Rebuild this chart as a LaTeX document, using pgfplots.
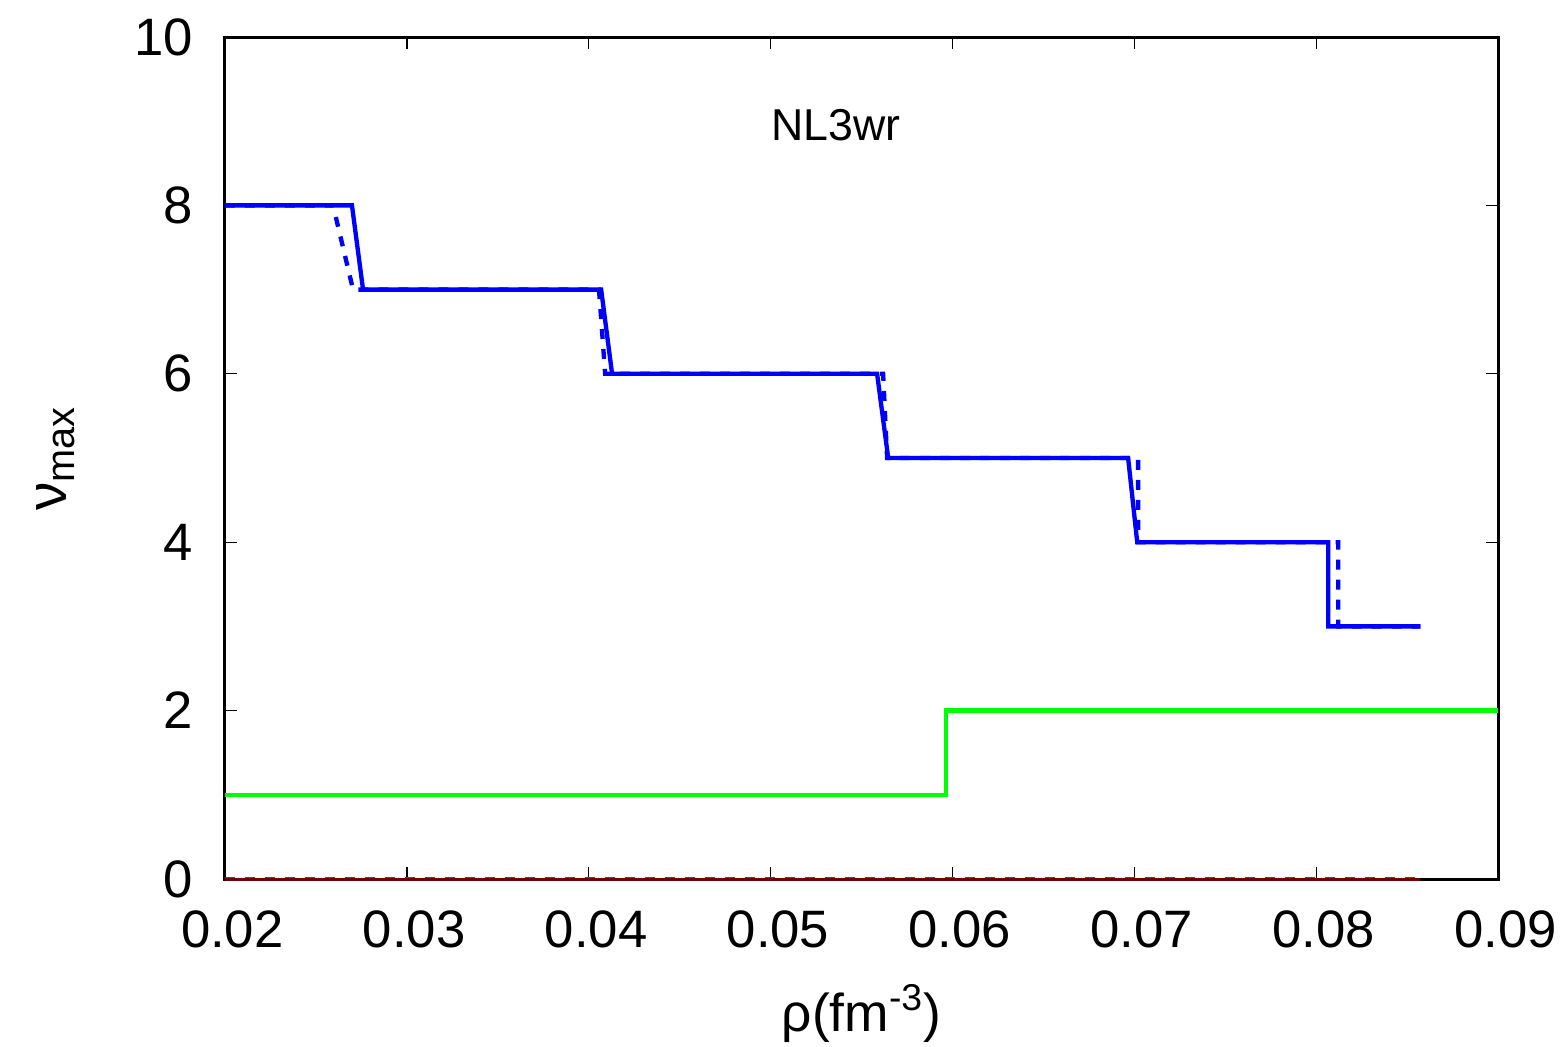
\documentclass[border=0pt]{standalone}
\usepackage{fontspec}
\setmainfont{Liberation Sans}
\usepackage{pgfplots}
\pgfplotsset{compat=1.18}

\begin{document}
\begin{tikzpicture}
\begin{axis}[
    at={(0,0)}, anchor=south west,
    scale only axis,
    width=382pt, height=252.6pt,
    xmin=0.02, xmax=0.09,
    ymin=0, ymax=10,
    xtick={0.02,0.03,...,0.09},
    ytick={0,2,...,10},
    /pgf/number format/assume math mode=true,
    /pgf/number format/fixed,
    /pgf/number format/fixed zerofill,
    /pgf/number format/precision=2,
    yticklabel style={/pgf/number format/precision=0},
    tick label style={font=\fontsize{15.8}{18}\selectfont},
    xticklabel style={yshift=-6pt, xshift=2.2pt},
    yticklabel style={xshift=-6pt},
    scaled x ticks=false,
    tick align=inside,
    major tick length=3.6pt,
    tick style={black, line width=0.4pt},
    axis line style={black, line width=0.9pt},
    xlabel={\fontsize{16}{19}\selectfont ρ(fm\textsuperscript{-3})},
    ylabel={\fontsize{17}{20}\selectfont ν\textsubscript{max}},
    xlabel style={yshift=-4pt},
    ylabel style={yshift=11pt},
    clip=false,
]
% solid blue
\addplot[blue, line width=1.3pt] coordinates {
    (0.02,8) (0.02698,8) (0.02759,7) (0.04068,7) (0.04128,6)
    (0.05585,6) (0.05646,5) (0.06965,5) (0.07015,4)
    (0.08065,4) (0.08065,3) (0.08571,3)
};
% dashed blue
\addplot[blue, line width=1.3pt, dash pattern=on 3pt off 3pt] coordinates {
    (0.02,8) (0.02594,8) (0.02704,7) (0.04056,7) (0.0409,6)
    (0.05618,6) (0.0564,5) (0.0702,5) (0.0702,4)
    (0.0812,4) (0.0812,3) (0.08571,3)
};
% green
\addplot[green, line width=1.3pt] coordinates {
    (0.02,1) (0.05965,1) (0.05965,2) (0.09,2)
};
% maroon and red at zero
\addplot[red, line width=1.3pt, dash pattern=on 3pt off 3pt] coordinates {
    (0.02,0) (0.08571,0)
};
\addplot[red!45!black, line width=0.9pt] coordinates {
    (0.02,0) (0.08571,0)
};
\node[font=\fontsize{13.4}{16}\selectfont] at (axis cs:0.0536,8.95) {NL3wr};
\end{axis}
\pgfresetboundingbox
\path (-67.5pt,-50.1pt) rectangle (401.7pt,263.7pt);
\end{tikzpicture}
\end{document}
